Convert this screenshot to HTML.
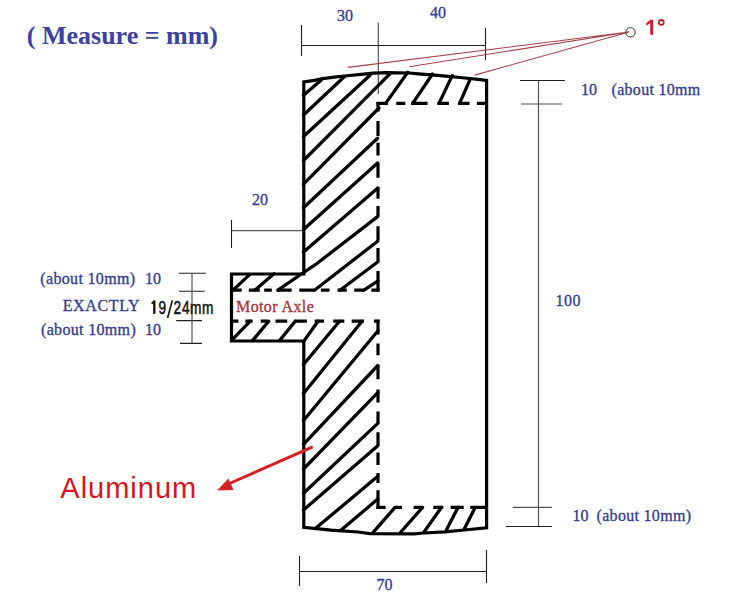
<!DOCTYPE html>
<html><head><meta charset="utf-8">
<style>
html,body{margin:0;padding:0;background:#fff;width:730px;height:603px;overflow:hidden}
svg{display:block}
.t{font-family:"Liberation Serif",serif;font-size:16px;fill:#323a90;stroke:#323a90;stroke-width:0.3px}
</style></head><body>
<svg width="730" height="603" viewBox="0 0 730 603">
<!-- title -->
<text x="26.8" y="44.3" font-family="Liberation Serif" font-weight="bold" font-size="26" fill="#3a42a2">( Measure = mm)</text>

<!-- thin dimension lines -->
<g stroke="#1e1e1e" stroke-width="1.1" fill="none">
  <path d="M301 45.5H485.5M301.5 25V56M485.5 28V60"/>
  <path d="M520 80.5H565M506 526.5H552"/>
  <path d="M299.5 571.5H486.5M299.5 556V586M486.5 550V583"/>
  <path d="M231.5 220V248"/>
  <path d="M179 273.3H205.8M179 291.3H204.7M176.2 320.6H202M180 343.4H202"/>
</g>
<g stroke="#555" stroke-width="1.2" fill="none">
  <path d="M378.3 22.5V94M538.5 80.5V526.6"/>
  <path d="M521 104H562M512.7 507.3H552"/>
  <path d="M232 230.6H302"/>
  <path d="M192 273.3V343.4"/>
</g>

<!-- red angle lines -->
<g stroke="#a8404c" stroke-width="1.1" fill="none">
  <path d="M348 67.4L629 32M409.3 66.7L629 32M474.7 75.1L629 32"/>
</g>
<circle cx="630.5" cy="32.3" r="4.7" fill="none" stroke="#333" stroke-width="1"/>
<g fill="none" stroke="#cc2030"><path d="M651.7 19.8V34.8" stroke-width="3"/><path d="M651.5 20.5L646.4 24.6" stroke-width="2.4"/><circle cx="661.3" cy="22.4" r="2.4" stroke-width="1.8"/></g>

<!-- main outline -->
<g stroke="#000" stroke-width="3.2" fill="none" stroke-linejoin="miter" stroke-linecap="square">
  <path d="M303.8 274V81.8 L314.4 80.3 L322.7 78.7 L336.4 76.8 L349.7 75.5 L363.4 74.1 L373.7 73.2 L386 72.7 L410 73 L418.2 73.8 L432 74.9 L448.4 76.4 L464.9 78 L478 79.4 L486.6 80.5 V527.8 L464 530 L445 531.8 L424 533 L414 533.8 L370 533.6 L358 532 L331 530.2 L303.8 527.3 V341 H231.5 V274 Z"/>
</g>

<!-- dashed inner lines (explicit dash segments) -->
<g stroke="#000" stroke-width="3.2" fill="none" stroke-linecap="butt">
  <!-- vertical x=378 -->
  <path d="M378 102V111.4M378 121V136M378 142.8V155.4M378 162.9V177.8M378 186.7V198.7M378 206V216.6M378 226.3V240.4M378 248V262.5M378 270.9V291.5M378 319.7V334.4M378 343.4V355.3M378 365V379.2M378 389.6V402.5M378 411.4V423.4M378 432.3V445.7M378 452.5V465.1M378 473V483M378 490.3V509"/>
  <!-- top y=103.4 -->
  <path d="M376.5 103.4H388.1M396.3 103.4H405.3M411.1 103.4H427.5M437.4 103.4H448.9M458 103.4H469.5M476.9 103.4H486"/>
  <!-- bottom y=506.6 -->
  <path d="M376.5 507.4H385.6M395 507.4H402M413.6 507.4H422.6M433.3 507.4H443.2M450.6 507.4H463.7M470.3 507.4H486"/>
  <!-- axle top y=290.2 -->
  <path d="M232 290.2H241.7M248.8 290.2H259.8M264.2 290.2H271.8M277.3 290.2H291.6M299.3 290.2H314.1M320.9 290.2H329.5M337.5 290.2H346.8M354.2 290.2H364M371.4 290.2H379.5"/>
  <!-- axle bottom y=321.2 -->
  <path d="M232 321.2H238.5M245.3 321.2H252.7M260.7 321.2H268.1M275.5 321.2H287.2M294.6 321.2H306.9M314.7 321.2H324M333.2 321.2H344.3M351.7 321.2H364M373.9 321.2H379.5"/>
</g>

<!-- hatch lines -->
<g stroke="#000" stroke-width="3.3" fill="none" stroke-linecap="round">
  <path d="M303.5 95.3L321 80.2
  M303.5 115L344 77
  M303.5 136.5L370 75.3
  M303.5 160.5L390.4 73.3
  M303.5 184.2L379 108
  M303.5 207.8L377.6 138.3
  M303.5 229.5L377.6 162.9
  M303.5 252L377.6 188.2
  M277.9 290.2L301.4 274L315 265L377.6 216.6
  M314.5 290.2L377.6 241.2
  M340 290.2L377.6 262
  M364 290.2L378 280.8
  M232.9 290.2L249.9 274.4
  M254.8 290.2L274 273.8
  M232.3 339.7L250.2 321.2
  M252.7 340.4L268.7 321.2
  M279.8 340.4L295.2 321.2
  M303.5 341.6L318 321.2
  M303.5 364.5L339.5 321.2
  M303.5 393.5L362 321.2
  M303.5 420.5L377.8 331
  M303.5 444.3L377.8 365.5
  M303.5 469L377.8 392.6
  M303.5 493.3L377.8 423.4
  M303.5 510L377.8 445.7
  M315.3 528.6L377.8 476.3
  M340.6 530.6L377.8 499
  M385.6 103.4L407.8 72.3
  M412.7 103.4L432.5 74
  M439 103.4L452.2 75.6
  M459.6 103.4L470.3 78.9
  M372.5 533.2L395 507.4
  M400.4 532.5L422.6 507.4
  M424.2 531.7L441.5 507.4
  M446.4 530.1L458 507.4
  M464.5 528.4L475.2 507.4"/>
</g>

<!-- arrow -->
<g stroke="#d42020" stroke-width="3" fill="none">
  <path d="M312.7 446.8L226 485"/>
</g>
<path d="M217.1 490.5L228.4 478.4L233.6 490Z" fill="#d42020"/>

<!-- texts -->
<text class="t" x="337" y="21">30</text>
<text class="t" x="430" y="18">40</text>
<text class="t" x="581" y="95.3">10</text>
<text class="t" x="611.5" y="95.3" letter-spacing="0.3">(about 10mm</text>
<text class="t" x="555.5" y="305.8" letter-spacing="0.5">100</text>
<text class="t" x="572.4" y="521.3">10</text>
<text class="t" x="596.6" y="521.3" letter-spacing="0.3">(about 10mm)</text>
<text class="t" x="376.5" y="590.3">70</text>
<text class="t" x="252" y="205">20</text>
<text class="t" x="40.3" y="284" letter-spacing="0.33">(about 10mm)</text>
<text class="t" x="145" y="284">10</text>
<text class="t" x="62.7" y="311.2" letter-spacing="0.65">EXACTLY</text>
<text class="t" x="41" y="335.1" letter-spacing="0.33">(about 10mm)</text>
<text class="t" x="145" y="335.1">10</text>
<g stroke="#111" fill="none"><path d="M154.3 300.6V313.8" stroke-width="2.3"/><path d="M154.6 300.8L151.6 303.6" stroke-width="1.8"/><path d="M172.3 300.4L167.6 318" stroke-width="1.6"/></g>
<text x="220.3 240.9 252.8 263.9 280.6" y="0" font-family="Liberation Sans" font-size="19" fill="#111" stroke="#111" stroke-width="0.55" transform="translate(0 313.8) scale(0.72 1)">924mm</text>
<text x="236" y="312" font-family="Liberation Serif" font-size="16" letter-spacing="0.4" fill="#a8303a" stroke="#a8303a" stroke-width="0.3">Motor Axle</text>
<text x="60.3" y="497.5" font-family="Liberation Sans" font-size="29" letter-spacing="1" fill="#d8141c">Aluminum</text>
</svg>
</body></html>
